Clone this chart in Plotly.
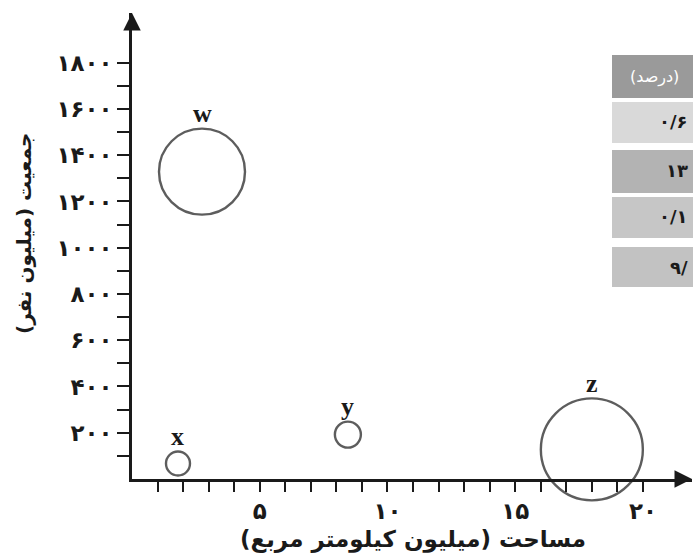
import plotly.graph_objects as go

# ---------------- data ----------------
labels = ["w", "x", "y", "z"]
area_million_km2 = [2.74, 1.80, 8.45, 18.0]
population_million = [1329, 67, 192, 128]
bubble_diameter = [86, 24, 26, 102]

x_tick_vals = [1, 2, 3, 4, 5, 6, 7, 8, 9, 10, 11, 12, 13, 14, 15, 16, 17, 18, 19, 20]
x_tick_text = ["", "", "", "", "۵", "", "", "", "", "۱۰",
               "", "", "", "", "۱۵", "", "", "", "", "۲۰"]
y_tick_vals = [100, 200, 300, 400, 500, 600, 700, 800, 900, 1000,
               1100, 1200, 1300, 1400, 1500, 1600, 1700, 1800]
y_tick_text = ["", "۲۰۰", "", "۴۰۰", "", "۶۰۰", "", "۸۰۰", "", "۱۰۰۰",
               "", "۱۲۰۰", "", "۱۴۰۰", "", "۱۶۰۰", "", "۱۸۰۰"]

x_title = "مساحت (میلیون کیلومتر مربع)"
y_title = "جمعیت (میلیون نفر)"

# fragment of neighbouring table (cut off at right edge)
table_header = "(درصد)"
table_cells = ["۰/۶", "۱۳", "۰/۱", "۹/"]

# ---------------- layout constants ----------------
W, H = 693, 554
ML, MR, MT, MB = 132, 1, 13, 75
PW, PH = W - ML - MR, H - MT - MB
X_MAX = 21.92
Y_MAX = 2015

INK = "#1a1a1a"
FONT = "DejaVu Sans"


def px_x(px):
    return (px - ML) / PW


def px_y(py):
    return (H - MB - py) / PH


fig = go.Figure()

fig.add_trace(go.Scatter(
    x=area_million_km2,
    y=population_million,
    mode="markers",
    marker=dict(size=bubble_diameter, color="rgba(0,0,0,0)",
                line=dict(color=INK, width=2.4)),
    cliponaxis=False,
    hoverinfo="skip",
    showlegend=False,
))

annotations = []
for lab, xv, yv, d in zip(labels, area_million_km2, population_million, bubble_diameter):
    annotations.append(dict(
        x=xv, y=yv, xref="x", yref="y", text="<b>%s</b>" % lab,
        showarrow=False, yshift=d / 2 + 15, yanchor="middle", xanchor="center",
        font=dict(family="Liberation Serif", size=26, color=INK),
    ))

# axis arrows
annotations.append(dict(x=X_MAX, y=0, ax=X_MAX - 0.6, ay=0, xref="x", yref="y",
                        axref="x", ayref="y", text="", showarrow=True,
                        arrowhead=2, arrowsize=1.4, arrowwidth=2.5, arrowcolor=INK,
                        standoff=0))
annotations.append(dict(x=0, y=Y_MAX, ax=0, ay=Y_MAX - 80, xref="x", yref="y",
                        axref="x", ayref="y", text="", showarrow=True,
                        arrowhead=2, arrowsize=1.4, arrowwidth=2.5, arrowcolor=INK,
                        standoff=0))

# axis titles
annotations.append(dict(x=px_x(413), y=px_y(539), xref="paper", yref="paper",
                        xanchor="center", yanchor="middle",
                        text="<b>%s</b>" % x_title, showarrow=False,
                        font=dict(family=FONT, size=23, color=INK)))
annotations.append(dict(x=px_x(24), y=px_y(234), xref="paper", yref="paper",
                        xanchor="center", yanchor="middle",
                        text="<b>%s</b>" % y_title, showarrow=False, textangle=-90,
                        font=dict(family=FONT, size=20, color=INK)))

# table fragment
shapes = []
rows = [(55, 98, "#9a9a9a"), (102, 143, "#d9d9d9"), (150, 193, "#b3b3b3"),
        (197, 238, "#c6c6c6"), (247, 287, "#c2c2c2")]
for (y0, y1, col) in rows:
    shapes.append(dict(type="rect", xref="paper", yref="paper", layer="below",
                       x0=px_x(612), x1=px_x(700), y0=px_y(y1), y1=px_y(y0),
                       fillcolor=col, line=dict(width=0)))
annotations.append(dict(x=px_x(628), y=px_y(77), xref="paper", yref="paper",
                        text=table_header, showarrow=False, xanchor="left",
                        yanchor="middle",
                        font=dict(family=FONT, size=16, color="white")))
cell_y = [122, 171, 217, 267]
for txt, cy in zip(table_cells, cell_y):
    annotations.append(dict(x=px_x(690), y=px_y(cy), xref="paper", yref="paper",
                            text="<b>%s</b>" % txt, showarrow=False, xanchor="right",
                            yanchor="middle",
                            font=dict(family=FONT, size=18, color=INK)))

fig.update_layout(
    width=W, height=H,
    margin=dict(l=ML, r=MR, t=MT, b=MB, pad=0),
    paper_bgcolor="white", plot_bgcolor="white",
    annotations=annotations, shapes=shapes,
    xaxis=dict(range=[0, X_MAX], showgrid=False, zeroline=False,
               showline=True, linecolor=INK, linewidth=2.5,
               ticks="outside", ticklen=10, tickwidth=2, tickcolor=INK,
               tickvals=x_tick_vals, ticktext=x_tick_text, automargin=False,
               tickfont=dict(family=FONT, size=23, color=INK, weight="bold")),
    yaxis=dict(range=[0, Y_MAX], showgrid=False, zeroline=False,
               showline=True, linecolor=INK, linewidth=2.5,
               ticks="outside", ticklen=12, tickwidth=2, tickcolor=INK,
               tickvals=y_tick_vals, ticktext=y_tick_text, automargin=False,
               tickfont=dict(family=FONT, size=23, color=INK, weight="bold")),
)

fig.write_html("out.html",
               config={"displayModeBar": False},
               post_script="document.body.style.margin='0';document.body.style.overflow='hidden';")
